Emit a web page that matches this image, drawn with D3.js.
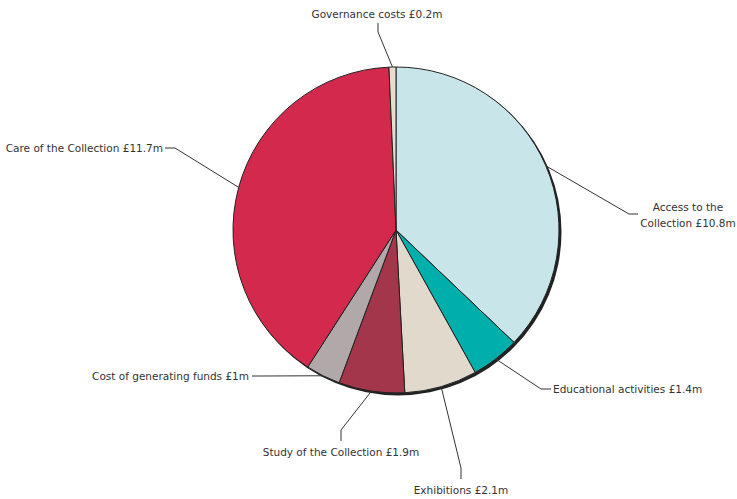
<html>
<head>
<style>
  body { margin: 0; background: #fff; }
  .lbl { font: 10.5px "DejaVu Sans", sans-serif; fill: #333; }
  .leader { fill: none; stroke: #333; stroke-width: 1; }
</style>
</head>
<body>
<svg id="chart" width="737" height="499"></svg>
<script src="https://cdnjs.cloudflare.com/ajax/libs/d3/7.8.5/d3.min.js"></script>
<script>
// data
var categories = ["Access to the Collection", "Educational activities", "Exhibitions",
  "Study of the Collection", "Cost of generating funds", "Care of the Collection", "Governance costs"];
var values = [10.8, 1.4, 2.1, 1.9, 1, 11.7, 0.2];
var valueLabels = ["£10.8m", "£1.4m", "£2.1m", "£1.9m", "£1m", "£11.7m", "£0.2m"];
var colors = ["#c8e6ea", "#00aeab", "#e1d9cc", "#a3364a", "#b1a9a9", "#d3294c", "#e6ddd0"];

// label layout: elbow, end of leader, text anchor and lines
var labelLayout = [
  { elbow: [629, 214], end: [638, 214], text: [688, 211], anchor: "middle", lines: ["Access to the", "Collection £10.8m"] },
  { elbow: [541, 389], end: [551, 389], text: [553, 393], anchor: "start" },
  { elbow: [461, 468], end: [461, 479], text: [461, 494], anchor: "middle" },
  { elbow: [341, 430], end: [341, 441], text: [341, 456], anchor: "middle" },
  { elbow: [262, 376], end: [252, 376], text: [249, 380], anchor: "end" },
  { elbow: [175, 148], end: [165, 148], text: [163, 152], anchor: "end" },
  { elbow: [378, 32], end: [378, 23], text: [377, 18], anchor: "middle" }
];

var cx = 396, cy = 230, r = 163;
var svg = d3.select("#chart");

var pie = d3.pie().sort(null).value(function(d) { return d; });
var arcs = pie(values);
var arc = d3.arc().innerRadius(0).outerRadius(r);
var edge = d3.arc().innerRadius(r).outerRadius(r);

var g = svg.append("g").attr("transform", "translate(" + cx + "," + cy + ")");

// shadow
g.append("circle").attr("cx", 2).attr("cy", 2).attr("r", r + 0.5).attr("fill", "#222");

g.selectAll("path.slice")
  .data(arcs)
  .enter().append("path")
  .attr("class", "slice")
  .attr("d", arc)
  .attr("fill", function(d, i) { return colors[i]; })
  .attr("stroke", "#222")
  .attr("stroke-width", 1)
  .attr("stroke-linejoin", "round");

// leaders
arcs.forEach(function(d, i) {
  var p = edge.centroid(d);
  var L = labelLayout[i];
  var pts = [[p[0] + cx, p[1] + cy], L.elbow, L.end];
  svg.append("path")
    .attr("class", "leader")
    .attr("d", d3.line()(pts));

  var t = svg.append("text")
    .attr("class", "lbl")
    .attr("x", L.text[0])
    .attr("y", L.text[1])
    .attr("text-anchor", L.anchor);
  var lines = L.lines || [categories[i] + " " + valueLabels[i]];
  lines.forEach(function(s, k) {
    t.append("tspan").attr("x", L.text[0]).attr("dy", k ? 15.5 : 0).text(s);
  });
});
</script>
</body>
</html>
